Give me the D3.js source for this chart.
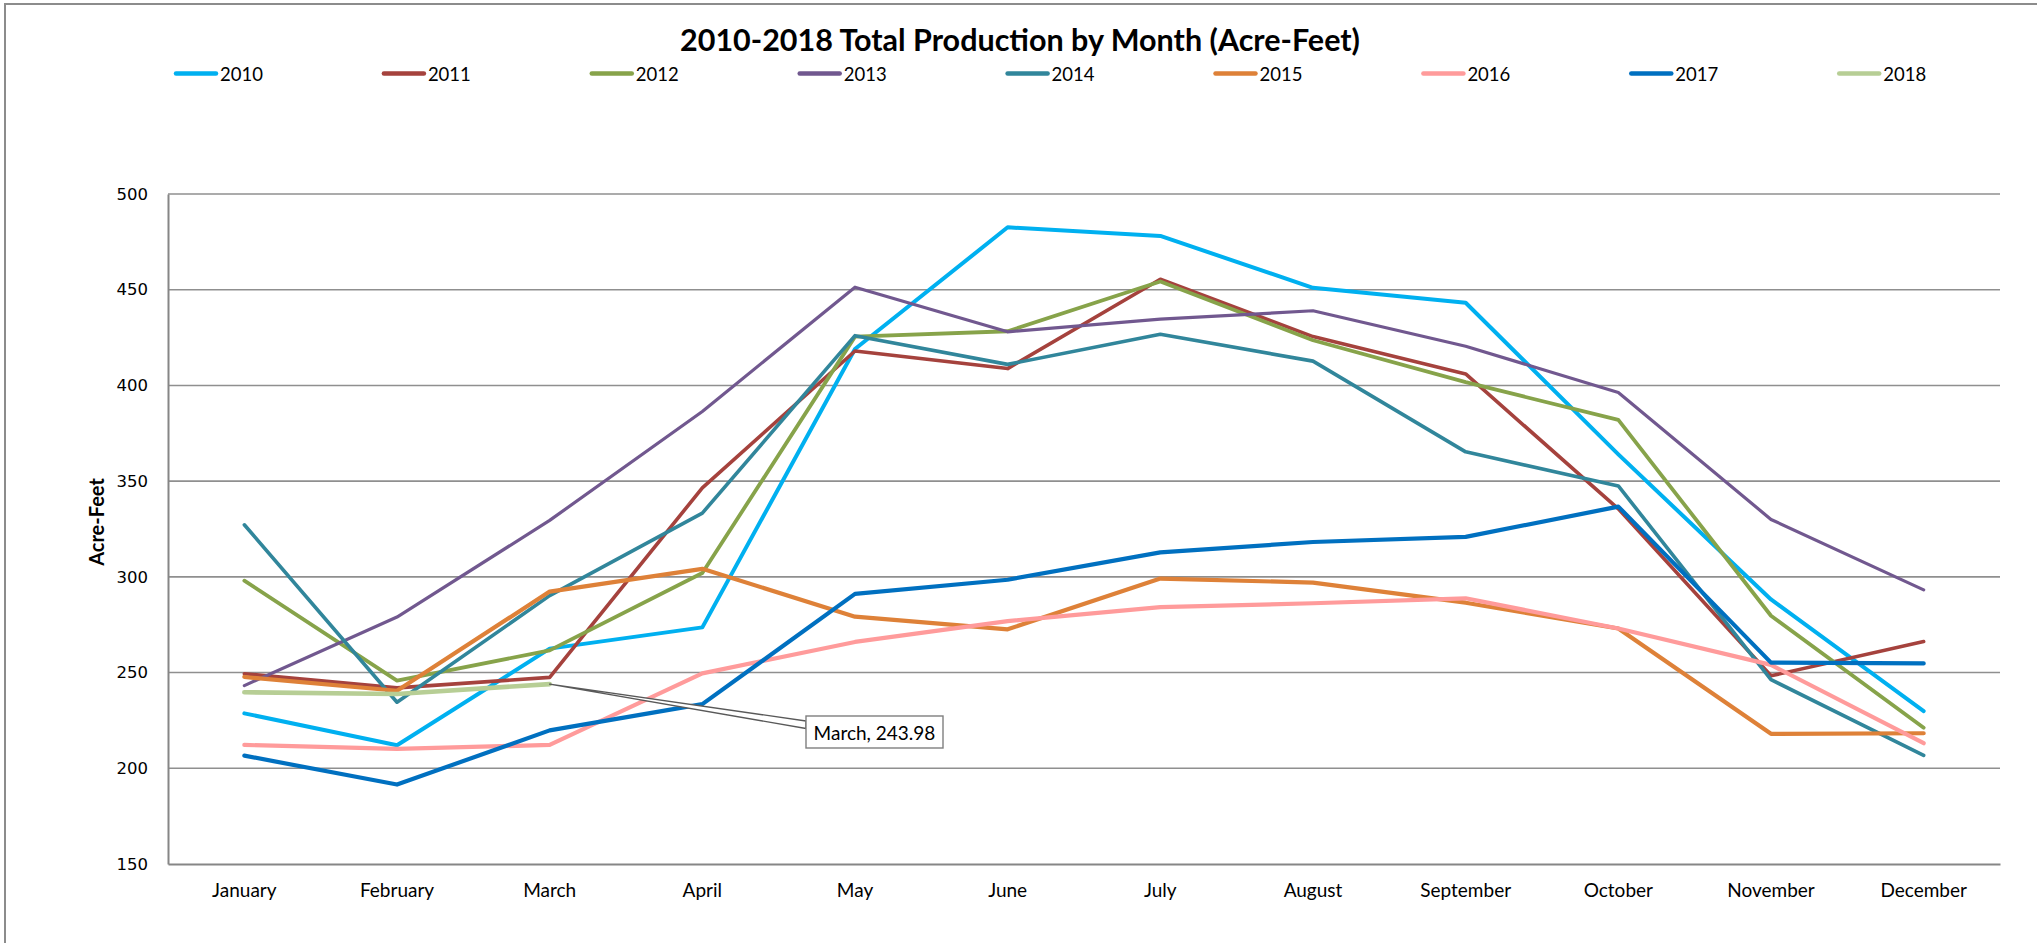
<!DOCTYPE html>
<html>
<head>
<meta charset="utf-8">
<script src="https://cdn.jsdelivr.net/npm/d3@7"></script>
<style>
  html, body { margin: 0; padding: 0; background: #fff; }
  svg { display: block; }
</style>
</head>
<body>
<svg id="chart" width="2037" height="943"></svg>
<script>
// ---------- data ----------
const months = ["January","February","March","April","May","June","July","August","September","October","November","December"];
const years = ["2010","2011","2012","2013","2014","2015","2016","2017","2018"];
const s2010 = [228.7, 212.0, 262.5, 273.6, 419.0, 482.6, 478.1, 451.0, 443.2, 364.0, 288.2, 229.9];
const s2011 = [249.4, 242.0, 247.5, 346.5, 418.0, 408.8, 455.5, 425.5, 406.0, 335.5, 248.3, 266.2];
const s2012 = [298.0, 245.8, 261.6, 302.0, 425.5, 428.3, 454.3, 423.6, 401.7, 382.0, 279.7, 221.2];
const s2013 = [243.2, 279.0, 329.5, 386.4, 451.3, 428.0, 434.6, 439.0, 420.5, 396.3, 330.0, 293.2];
const s2014 = [327.2, 234.5, 290.2, 333.3, 426.0, 411.0, 426.7, 412.7, 365.3, 347.5, 246.3, 206.7];
const s2015 = [247.7, 240.5, 292.3, 304.2, 279.2, 272.6, 299.1, 297.0, 286.5, 273.0, 218.0, 218.3];
const s2016 = [212.2, 210.1, 212.2, 249.6, 266.0, 276.9, 284.2, 286.2, 288.8, 273.0, 254.0, 213.1];
const s2017 = [206.6, 191.5, 219.8, 233.5, 291.1, 298.5, 312.8, 318.2, 320.9, 336.7, 255.2, 254.8];
const s2018 = [239.7, 238.8, 243.98];
const seriesValues = [s2010, s2011, s2012, s2013, s2014, s2015, s2016, s2017, s2018];
const yTicks = [150, 200, 250, 300, 350, 400, 450, 500];
const titleText = "2010-2018 Total Production by Month (Acre-Feet)";
const yAxisTitle = "Acre-Feet";
const callout = { series: "2018", month: "March" };

// ---------- styles ----------
const colors = ["#00B0F0","#A5423D","#87A34A","#71588F","#31869B","#DE8138","#FF9B9B","#0070C0","#B7CE95"];
const widths = [4, 3.6, 3.8, 3.2, 3.6, 4.2, 4.2, 4.2, 4.6];

const svg = d3.select("#chart");
const W = 2037, H = 943;
const plot = { left: 168, right: 2000, top: 194, bottom: 864 };

// frame
svg.append("rect").attr("x", 5).attr("y", 4).attr("width", 2100).attr("height", 1000)
  .attr("fill", "#fff").attr("stroke", "#8c8c8c").attr("stroke-width", 2);

const x = d3.scaleBand().domain(months).range([plot.left, plot.right]).padding(0);
const xc = m => x(m) + x.bandwidth() / 2;
const y = d3.scaleLinear().domain([150, 500]).range([plot.bottom, plot.top]);

// gridlines
svg.append("g").selectAll("line").data(yTicks.filter(t => t > 150)).join("line")
  .attr("x1", plot.left).attr("x2", plot.right)
  .attr("y1", d => y(d)).attr("y2", d => y(d))
  .attr("stroke", "#8f8f8f").attr("stroke-width", 1.6);

// y axis
const yAxis = d3.axisLeft(y).tickValues(yTicks).tickSize(0).tickPadding(20);
const gy = svg.append("g").attr("transform", `translate(${plot.left},0)`).call(yAxis);
gy.select(".domain").attr("stroke", "#868686").attr("stroke-width", 2);
gy.selectAll("text").attr("font-family", "'DejaVu Sans', Verdana, sans-serif")
  .attr("font-size", 16.5).attr("fill", "#000");

// x axis
const xAxis = d3.axisBottom(x).tickSize(0).tickPadding(20);
const gx = svg.append("g").attr("transform", `translate(0,${plot.bottom})`).call(xAxis);
gx.select(".domain").attr("stroke", "#868686").attr("stroke-width", 2);
gx.selectAll("text").attr("font-family", "Lato, 'Open Sans', sans-serif")
  .attr("font-size", 19).attr("fill", "#000");

// y axis title
svg.append("text")
  .attr("transform", `translate(104,${(plot.top + plot.bottom) / 2 - 7}) rotate(-90)`)
  .attr("text-anchor", "middle")
  .attr("font-family", "Lato, sans-serif").attr("font-weight", "bold")
  .attr("font-size", 20).attr("fill", "#000")
  .text(yAxisTitle);

// lines
const line = d3.line().x(d => xc(d.m)).y(d => y(d.v));
years.forEach((yr, i) => {
  const pts = seriesValues[i].map((v, j) => ({ m: months[j], v }));
  svg.append("path").datum(pts)
    .attr("d", line)
    .attr("fill", "none")
    .attr("stroke", colors[i])
    .attr("stroke-width", widths[i])
    .attr("stroke-linejoin", "round")
    .attr("stroke-linecap", "round");
});

// callout
{
  const si = years.indexOf(callout.series);
  const mi = months.indexOf(callout.month);
  const v = seriesValues[si][mi];
  const ax = xc(callout.month), ay = y(v);
  const bx = 806, by = 716, bw = 137, bh = 32;
  const g = svg.append("g");
  g.append("path")
    .attr("d", `M${ax},${ay} L${bx},${by + 5} L${bx},${by + 12.5} Z`)
    .attr("fill", "#fff").attr("stroke", "#595959").attr("stroke-width", 1.4)
    .attr("stroke-linejoin", "round");
  g.append("rect").attr("x", bx).attr("y", by).attr("width", bw).attr("height", bh)
    .attr("fill", "#fff").attr("stroke", "#7f7f7f").attr("stroke-width", 1.4);
  g.append("text").attr("x", bx + bw / 2).attr("y", by + 23.5)
    .attr("text-anchor", "middle")
    .attr("font-family", "Lato, sans-serif").attr("font-size", 19).attr("fill", "#000")
    .text(`${callout.month}, ${v.toFixed(2)}`);
}

// title
svg.append("text").attr("x", 1020).attr("y", 51)
  .attr("text-anchor", "middle")
  .attr("font-family", "Lato, sans-serif").attr("font-weight", "bold")
  .attr("font-size", 30).attr("fill", "#000")
  .attr("textLength", 680).attr("lengthAdjust", "spacingAndGlyphs")
  .text(titleText);

// legend
const legend = svg.append("g");
years.forEach((yr, i) => {
  const lx = 174 + i * 207.9;
  legend.append("line").attr("x1", lx + 2).attr("x2", lx + 42)
    .attr("y1", 73.5).attr("y2", 73.5)
    .attr("stroke", colors[i]).attr("stroke-width", 4.5).attr("stroke-linecap", "round");
  legend.append("text").attr("x", lx + 46).attr("y", 80.5)
    .attr("font-family", "Lato, sans-serif").attr("font-size", 18.5).attr("fill", "#000")
    .text(yr);
});
</script>
</body>
</html>
